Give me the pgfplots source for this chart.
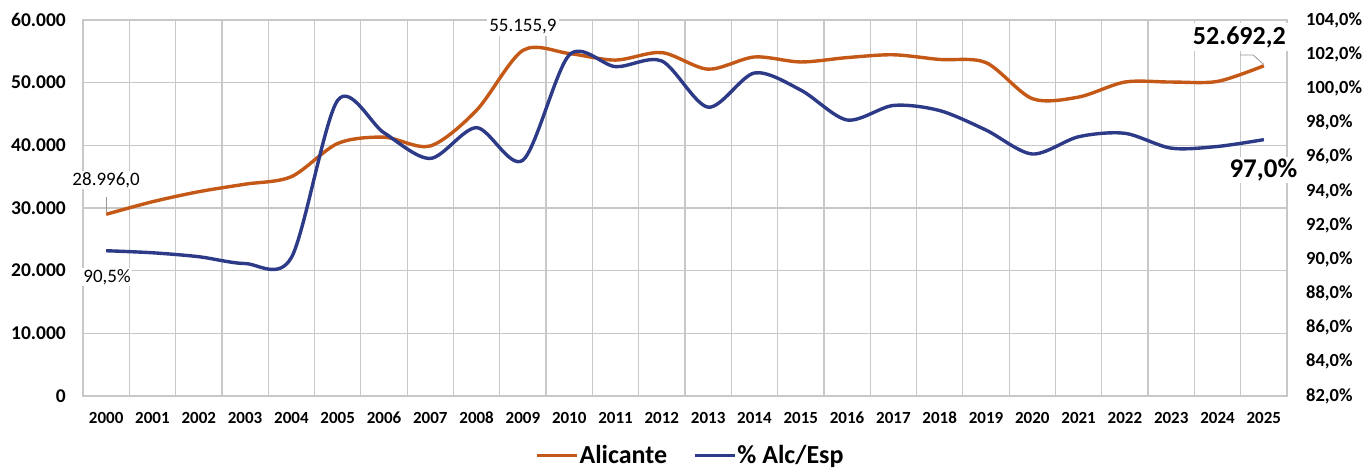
\documentclass[border=0pt]{standalone}
\usepackage{pgfplots}
\pgfplotsset{compat=1.18}
\usepackage{fontspec}
\setmainfont{Carlito}
\definecolor{orangeA}{RGB}{196,88,22}
\definecolor{blueA}{RGB}{44,58,135}
\definecolor{gridgray}{RGB}{200,200,200}
\definecolor{leadgray}{RGB}{150,150,150}
\begin{document}
\begin{tikzpicture}
\useasboundingbox (-83pt,-74pt) rectangle (1284pt,396pt);
\begin{axis}[
  scale only axis, width=1204pt, height=376pt,
  at={(0pt,0pt)}, anchor=south west,
  xmin=-0.5, xmax=25.5, ymin=0, ymax=60000,
  scaled y ticks=false,
  xtick={0,1,...,25},
  xticklabels={2000,2001,2002,2003,2004,2005,2006,2007,2008,2009,2010,2011,2012,2013,2014,2015,2016,2017,2018,2019,2020,2021,2022,2023,2024,2025},
  minor xtick={-0.5,0.5,...,25.5},
  xminorgrids, minor grid style={gridgray, line width=1.2pt},
  ytick={0,10000,20000,30000,40000,50000,60000},
  yticklabels={0,10.000,20.000,30.000,40.000,50.000,60.000},
  ymajorgrids, major grid style={gridgray, line width=1.2pt},
  axis line style={gridgray, line width=1.2pt},
  major tick length=0pt, minor tick length=0pt,
  tick label style={font=\bfseries\fontsize{17}{17}\selectfont, inner sep=0pt},
  yticklabel style={anchor=east, xshift=-17pt, font=\bfseries\fontsize{19.5}{19.5}\selectfont},
  xticklabel style={anchor=north, yshift=-16pt},
  clip=false,
]
\addplot[orangeA, line width=3.4pt, smooth, tension=0.5] coordinates {
(0,28996) (1,31000) (2,32600) (3,33800) (4,35000) (5,40300) (6,41300) (7,39900)
(8,45600) (9,55155.9) (10,54650) (11,53600) (12,54800) (13,52150) (14,54100)
(15,53300) (16,54000) (17,54450) (18,53700) (19,53200) (20,47450) (21,47700)
(22,50100) (23,50100) (24,50200) (25,52692.2)};
\draw[leadgray, line width=0.8pt] (axis cs:0,29300) -- (axis cs:0,31800);
\node[font=\fontsize{19}{19}\selectfont, fill=white, inner sep=1pt] at (axis cs:0,34470) {28.996,0};
\node[font=\fontsize{19}{19}\selectfont, fill=white, inner sep=2pt] at (axis cs:9,58880) {55.155,9};
\node[font=\bfseries\fontsize{26}{26}\selectfont, fill=white, inner sep=3pt] at (axis cs:24.47,57280) {52.692,2};
\draw[leadgray, line width=0.8pt] (axis cs:24.49,54400) -- (axis cs:24.77,54400) -- (axis cs:25.0,52900);
\end{axis}
\begin{axis}[
  scale only axis, width=1204pt, height=376pt,
  at={(0pt,0pt)}, anchor=south west,
  xmin=-0.5, xmax=25.5, ymin=82, ymax=104,
  axis x line=none, axis y line*=right,
  y axis line style={draw=none},
  ytick={82,84,86,88,90,92,94,96,98,100,102,104},
  yticklabels={{82,0\%},{84,0\%},{86,0\%},{88,0\%},{90,0\%},{92,0\%},{94,0\%},{96,0\%},{98,0\%},{100,0\%},{102,0\%},{104,0\%}},
  major tick length=0pt,
  tick label style={font=\bfseries\fontsize{18.5}{18.5}\selectfont, inner sep=0pt},
  yticklabel style={anchor=west, xshift=19pt},
  clip=false,
  legend style={at={(0.504,-0.158)}, anchor=center, draw=none, fill=none,
    legend columns=2, font=\bfseries\fontsize{26}{26}\selectfont,
    nodes={inner sep=1pt},
    /tikz/every even column/.append style={column sep=25pt}},
  legend image code/.code={\draw[#1] (0pt,0pt) -- (40pt,0pt);},
]
\addlegendimage{orangeA, line width=3.4pt}
\addlegendentry{Alicante}
\addplot[blueA, line width=3.4pt, smooth, tension=0.5] coordinates {
(0,90.5) (1,90.38) (2,90.15) (3,89.75) (4,90.1) (5,99.3) (6,97.4) (7,95.9)
(8,97.7) (9,95.8) (10,101.95) (11,101.27) (12,101.6) (13,98.9) (14,100.9)
(15,99.9) (16,98.15) (17,99.0) (18,98.7) (19,97.56) (20,96.16) (21,97.17)
(22,97.37) (23,96.5) (24,96.6) (25,97.0)};
\addlegendentry{\% Alc/Esp}
\node[font=\fontsize{19}{19}\selectfont, fill=white, inner sep=1pt] at (axis cs:0.02,88.96) {90,5\%};
\node[font=\bfseries\fontsize{27}{27}\selectfont, fill=white, inner sep=2pt] at (axis cs:24.99,95.22) {97,0\%};
\end{axis}
\end{tikzpicture}
\end{document}
